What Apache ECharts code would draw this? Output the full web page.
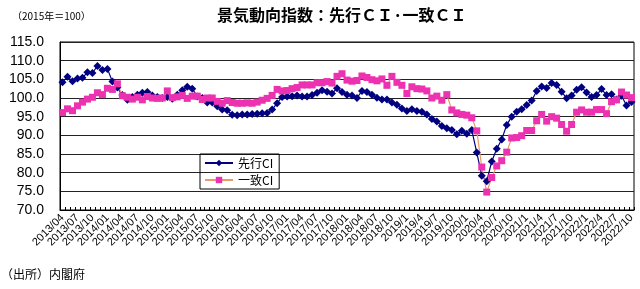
<!DOCTYPE html>
<html><head><meta charset="utf-8">
<script src="https://cdn.jsdelivr.net/npm/echarts@6/dist/echarts.min.js"></script>
<style>html,body{margin:0;padding:0;background:#fff}#c{width:640px;height:289px}</style>
</head><body><div id="c"></div>
<script>
// month categories 2013/04 .. 2022/10 (115 months)
const startYear = 2013, startMonth = 4, monthCount = 115;
const categories = [];
for (let k = 0; k < monthCount; k++) {
  const m = startMonth - 1 + k;
  categories.push((startYear + Math.floor(m / 12)) + '/' + String(m % 12 + 1).padStart(2, '0'));
}
const tickLabels = ['2013/04','2013/07','2013/10','2014/01','2014/04','2014/07','2014/10','2015/01','2015/04','2015/07','2015/10','2016/01','2016/04','2016/07','2016/10','2017/01','2017/04','2017/07','2017/10','2018/01','2018/04','2018/07','2018/10','2019/1','2019/4','2019/7','2019/10','2020/1','2020/4','2020/7','2020/10','2021/1','2021/4','2021/7','2021/10','2022/1','2022/4','2022/7','2022/10'];
const yTicks = [70,75,80,85,90,95,100,105,110,115];

// 先行CI (leading)
const leading = [
 104.2,105.7,104.5,105.2,105.4,106.9,106.7,108.6,107.5,107.8,104.4,102.8,
 100.8,99.5,100.3,100.9,101.4,101.6,100.7,100.3,100.0,100.3,99.8,100.9,
 102.1,103.0,102.5,100.4,100.0,98.8,98.8,97.8,96.9,96.7,95.5,95.4,
 95.6,95.6,95.7,95.8,95.9,96.0,96.9,98.6,100.3,100.4,100.5,100.7,
 100.4,100.4,100.8,101.4,102.1,101.7,101.2,102.6,101.6,100.9,100.7,100.0,
 101.9,101.6,100.9,100.1,99.6,99.6,98.8,98.2,97.2,96.5,97.0,96.5,
 96.3,95.6,94.4,93.7,92.5,91.9,91.4,90.3,91.2,90.4,91.4,85.4,
 79.2,77.7,83.0,86.4,88.9,92.8,95.0,96.3,97.0,98.1,99.3,101.9,
 103.1,102.7,104.0,103.5,101.7,99.9,100.7,102.2,102.9,101.5,100.3,100.8,
 102.4,100.8,101.0,99.6,100.6,98.0,98.9
];
// 一致CI (coincident)
const coincident = [
 96.1,97.1,96.6,97.9,98.9,99.7,100.2,101.4,100.9,102.6,102.3,103.8,
 100.6,100.2,99.7,100.2,99.5,100.4,100.0,99.9,100.0,101.9,100.1,100.3,
 100.7,99.9,100.5,100.5,99.6,100.0,100.0,99.1,98.6,99.3,98.8,98.6,
 98.6,98.7,98.6,98.9,99.4,99.9,100.7,102.3,101.9,102.0,102.5,102.8,
 103.5,103.5,103.5,104.1,104.1,104.4,104.0,105.8,106.5,104.8,104.5,104.7,
 105.9,105.5,104.9,104.6,105.1,103.4,105.8,104.2,103.4,101.2,103.0,102.5,
 102.4,101.9,100.0,100.5,99.4,100.9,96.8,96.0,95.6,95.4,94.7,91.2,
 81.5,74.8,78.7,81.8,83.2,85.5,89.3,89.4,89.9,91.3,91.3,93.9,
 95.6,93.8,95.0,94.6,92.9,91.1,92.9,96.2,96.8,96.2,96.2,96.9,
 96.9,95.8,99.0,99.5,101.6,100.8,100.1
];

const chart = echarts.init(document.getElementById('c'), null, {renderer: 'canvas'});
const FONT = '"Liberation Sans", Arial, sans-serif';
const JFONT = '"Noto Sans CJK JP", sans-serif';
chart.setOption({
  animation: false,
  backgroundColor: '#fff',
  title: {
    text: '景気動向指数：先行ＣＩ·一致ＣＩ',
    left: 212, top: 2,
    textStyle: {fontSize: 16, fontWeight: 'bold', fontFamily: JFONT, color: '#000'}
  },
  graphic: [
    {type: 'text', left: 12, top: 11, style: {text: '（2015年＝100）', fontSize: 10, fontFamily: JFONT, fill: '#000'}},
    {type: 'text', left: 1, top: 268, style: {text: '（出所）内閣府', fontSize: 12, fontFamily: JFONT, fill: '#000'}}
  ],
  legend: {
    left: 200, top: 154, orient: 'vertical',
    borderColor: '#000', borderWidth: 1, padding: [3, 6, 3, 4], itemGap: 5,
    itemWidth: 28, itemHeight: 8,
    textStyle: {fontSize: 12, fontFamily: JFONT, color: '#000'},
    data: ['先行CI', '一致CI']
  },
  grid: {left: 60, right: 6, top: 42, bottom: 79, show: true, borderColor: '#000', borderWidth: 1},
  xAxis: {
    type: 'category', data: categories, boundaryGap: true,
    axisLine: {lineStyle: {color: '#000', width: 1}},
    axisTick: {show: true, inside: true, length: 3, interval: 0, lineStyle: {color: '#000'}},
    axisLabel: {
      interval: 0, rotate: 45, margin: 6, fontSize: 11, fontFamily: FONT, color: '#000',
      hideOverlap: false,
      formatter: (v, i) => (i % 3 === 0 ? (tickLabels[i / 3] || '') : '')
    },
    splitLine: {show: false}
  },
  yAxis: {
    type: 'value', min: yTicks[0], max: yTicks[yTicks.length - 1], interval: 5,
    axisLine: {show: true, lineStyle: {color: '#000'}},
    axisTick: {show: false},
    axisLabel: {fontSize: 14, fontFamily: FONT, color: '#000', margin: 16, formatter: v => v.toFixed(1)},
    splitLine: {lineStyle: {color: '#222', width: 1}}
  },
  series: [
    {
      name: '先行CI', type: 'line', data: leading,
      symbol: 'diamond', symbolSize: 8, showAllSymbol: true,
      lineStyle: {color: '#000080', width: 1.2},
      itemStyle: {color: '#000080'}
    },
    {
      name: '一致CI', type: 'line', data: coincident,
      symbol: 'rect', symbolSize: 7, showAllSymbol: true,
      lineStyle: {color: '#E99A6A', width: 1.2},
      itemStyle: {color: '#EC32B0'}
    }
  ]
});
</script></body></html>
